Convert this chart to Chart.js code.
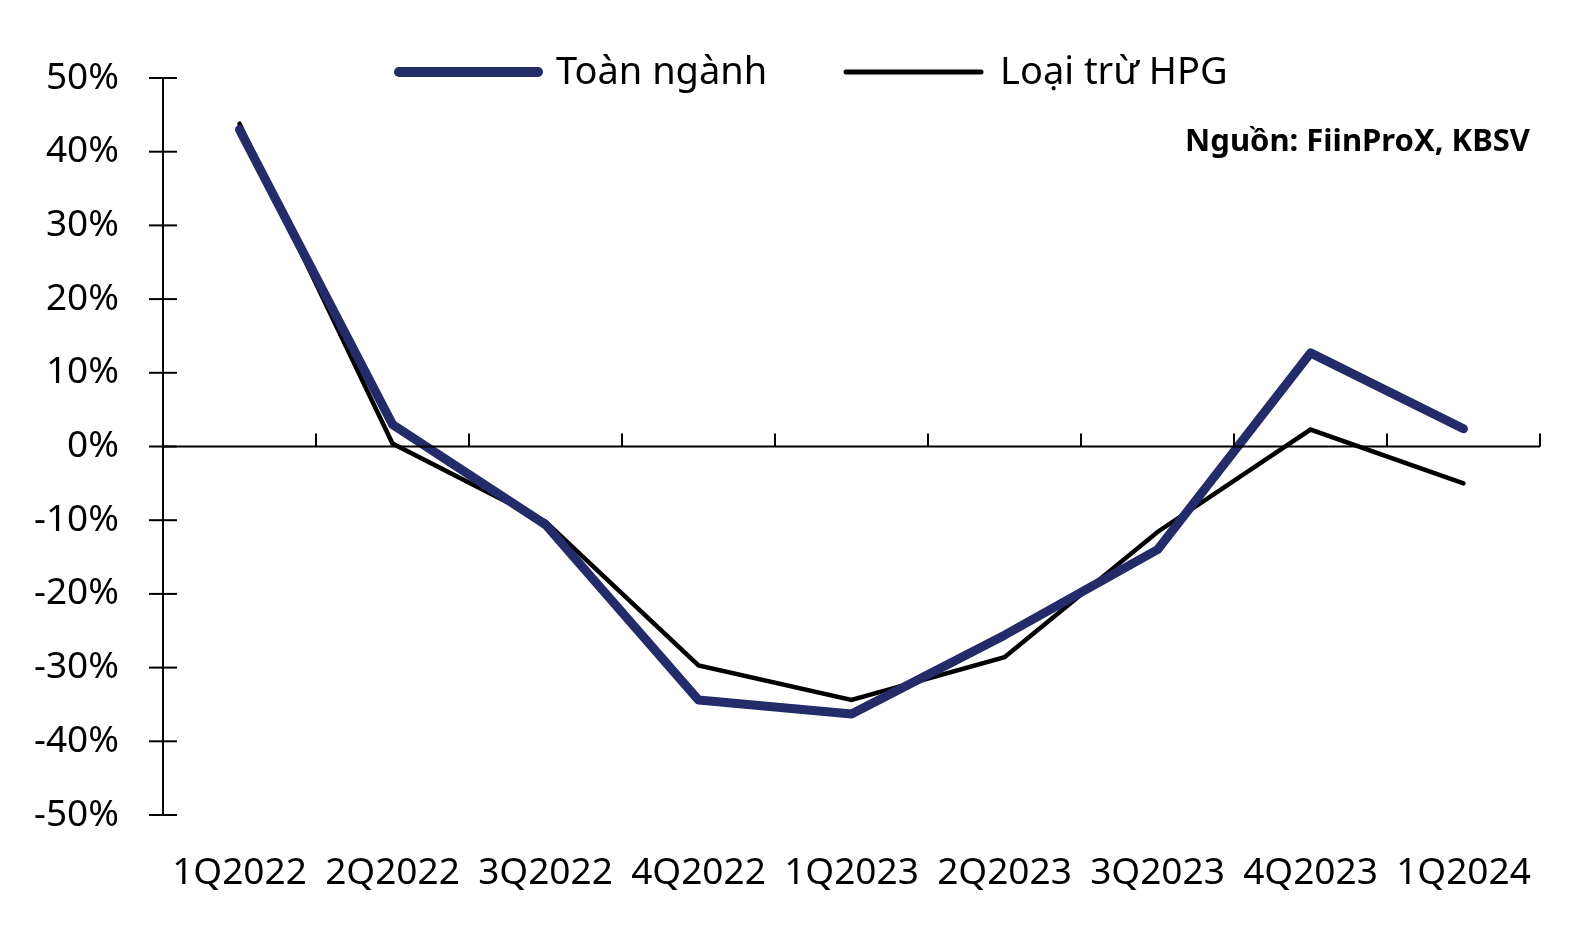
<!DOCTYPE html>
<html>
<head>
<meta charset="utf-8">
<script src="https://cdn.jsdelivr.net/npm/chart.js@4/dist/chart.umd.min.js"></script>
<style>
  html, body { margin: 0; padding: 0; background: #fff; }
  #wrap { width: 1575px; height: 928px; }
</style>
</head>
<body>
<div id="wrap"><canvas id="chart"></canvas></div>
<script>
const categories = ['1Q2022', '2Q2022', '3Q2022', '4Q2022', '1Q2023', '2Q2023', '3Q2023', '4Q2023', '1Q2024'];
const toanNganh = [43.0, 3.0, -10.6, -34.4, -36.3, -25.6, -14.0, 12.7, 2.4];
const loaiTruHPG = [43.8, 0.4, -10.2, -29.7, -34.4, -28.6, -11.6, 2.3, -5.0];
const yTicks = [-50, -40, -30, -20, -10, 0, 10, 20, 30, 40, 50];

const FONT = "'Noto Sans', sans-serif";
const NAVY = '#232b69';

// axis ticks crossing the y axis, small ticks above the zero line, legend and source
const decor = {
  id: 'decor',
  afterDraw(chart) {
    const ctx = chart.ctx;
    const x = chart.scales.x, y = chart.scales.y;
    const area = chart.chartArea;
    ctx.save();
    ctx.strokeStyle = '#000';
    ctx.lineWidth = 2;
    // y axis line
    ctx.beginPath();
    ctx.moveTo(area.left, y.getPixelForValue(50));
    ctx.lineTo(area.left, y.getPixelForValue(-50));
    ctx.stroke();
    yTicks.forEach(v => {
      const py = y.getPixelForValue(v);
      ctx.beginPath();
      ctx.moveTo(area.left - 14, py);
      ctx.lineTo(area.left + 14, py);
      ctx.stroke();
    });
    // zero line + category boundary ticks
    const zy = y.getPixelForValue(0);
    ctx.beginPath();
    ctx.moveTo(area.left, zy);
    ctx.lineTo(area.right, zy);
    ctx.stroke();
    for (let i = 1; i <= categories.length; i++) {
      const px = (x.getPixelForValue(i - 1) + (i < categories.length ? x.getPixelForValue(i) : x.getPixelForValue(i - 1) * 2 - x.getPixelForValue(i - 2))) / 2;
      ctx.beginPath();
      ctx.moveTo(px, zy);
      ctx.lineTo(px, zy - 13);
      ctx.stroke();
    }

    // legend
    ctx.lineCap = 'round';
    ctx.strokeStyle = NAVY;
    ctx.lineWidth = 10;
    ctx.beginPath();
    ctx.moveTo(399, 72);
    ctx.lineTo(538, 72);
    ctx.stroke();
    ctx.strokeStyle = '#000';
    ctx.lineWidth = 5;
    ctx.beginPath();
    ctx.moveTo(846, 72);
    ctx.lineTo(981, 72);
    ctx.stroke();
    ctx.fillStyle = '#000';
    ctx.font = '38px ' + FONT;
    ctx.textBaseline = 'middle';
    ctx.textAlign = 'left';
    ctx.fillText(chart.data.datasets[0].label, 556, 73);
    ctx.fillText(chart.data.datasets[1].label, 1000, 73);

    // source
    ctx.font = 'bold 31px ' + FONT;
    ctx.textAlign = 'right';
    ctx.fillText('Nguồn: FiinProX, KBSV', 1530, 142);
    ctx.restore();
  }
};

new Chart(document.getElementById('chart'), {
  type: 'line',
  data: {
    labels: categories,
    datasets: [
      {
        label: 'Toàn ngành',
        data: toanNganh,
        borderColor: NAVY,
        borderWidth: 9,
        borderCapStyle: 'round',
        borderJoinStyle: 'round',
        pointRadius: 0,
        tension: 0
      },
      {
        label: 'Loại trừ HPG',
        data: loaiTruHPG,
        borderColor: '#000',
        borderWidth: 4.5,
        borderCapStyle: 'round',
        pointRadius: 0,
        tension: 0
      }
    ]
  },
  options: {
    responsive: true,
    maintainAspectRatio: false,
    animation: false,
    layout: { padding: { top: 78, right: 35, left: 0, bottom: 0 } },
    plugins: {
      legend: { display: false },
      tooltip: { enabled: false }
    },
    scales: {
      x: {
        offset: true,
        grid: { display: false, drawTicks: false },
        border: { display: false },
        ticks: { color: '#000', font: { family: FONT, size: 37 }, padding: 36, maxRotation: 0 },
        afterFit: s => { s.height = 113; }
      },
      y: {
        min: -50,
        max: 50,
        grid: { display: false, drawTicks: false },
        border: { display: false },
        ticks: {
          stepSize: 10,
          color: '#000',
          font: { family: FONT, size: 37 },
          padding: 44,
          callback: v => v + '%'
        },
        afterFit: s => { s.width = 163; }
      }
    }
  },
  plugins: [decor]
});
</script>
</body>
</html>
